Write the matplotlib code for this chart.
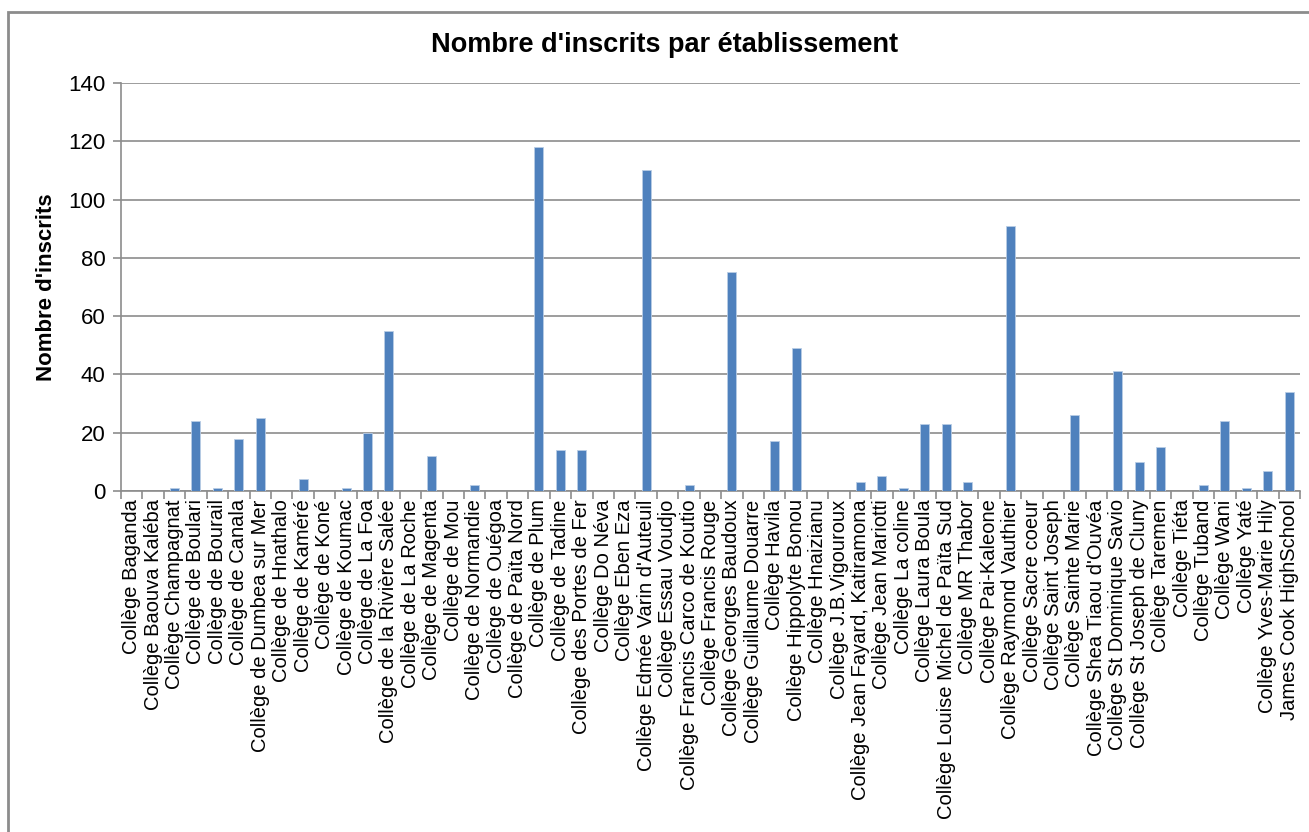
import numpy as np
import matplotlib.pyplot as plt
from matplotlib.patches import Rectangle

plt.rcParams['font.family'] = ['Liberation Sans', 'DejaVu Sans']

# Etablissements et nombre d'inscrits
etablissements = [
    "Collège Baganda", "Collège Baouva Kaléba", "Collège Champagnat",
    "Collège de Boulari", "Collège de Bourail", "Collège de Canala",
    "Collège de Dumbea sur Mer", "Collège de Hnathalo", "Collège de Kaméré",
    "Collège de Koné", "Collège de Koumac", "Collège de La Foa",
    "Collège de la Rivière Salée", "Collège de La Roche", "Collège de Magenta",
    "Collège de Mou", "Collège de Normandie", "Collège de Ouégoa",
    "Collège de Païta Nord", "Collège de Plum", "Collège de Tadine",
    "Collège des Portes de Fer", "Collège Do Néva", "Collège Eben Eza",
    "Collège Edmée Varin d'Auteuil", "Collège Essau Voudjo",
    "Collège Francis Carco de Koutio", "Collège Francis Rouge",
    "Collège Georges Baudoux", "Collège Guillaume Douarre", "Collège Havila",
    "Collège Hippolyte Bonou", "Collège Hnaizianu", "Collège J.B.Vigouroux",
    "Collège Jean Fayard, Katiramona", "Collège Jean Mariotti",
    "Collège La coline", "Collège Laura Boula",
    "Collège Louise Michel de Païta Sud", "Collège MR Thabor",
    "Collège Pai-Kaleone", "Collège Raymond Vauthier", "Collège Sacre coeur",
    "Collège Saint Joseph", "Collège Sainte Marie", "Collège Shea Tiaou d'Ouvéa",
    "Collège St Dominique Savio", "Collège St Joseph de Cluny",
    "Collège Taremen", "Collège Tiéta", "Collège Tuband", "Collège Wani",
    "Collège Yaté", "Collège Yves-Marie Hily", "James Cook HighSchool",
]
inscrits = [
    0, 0, 1, 24, 1, 18, 25, 0, 4, 0, 1, 20, 55, 0, 12, 0, 2, 0, 0, 118,
    14, 14, 0, 0, 110, 0, 2, 0, 75, 0, 17, 49, 0, 0, 3, 5, 1, 23, 23, 3,
    0, 91, 0, 0, 26, 0, 41, 10, 15, 0, 2, 24, 1, 7, 34,
]

fig = plt.figure(figsize=(13.09, 8.32), dpi=100)
ax = fig.add_axes([0.0924, 0.4099, 0.9007, 0.4904])

x = np.arange(len(etablissements))
ax.bar(x, inscrits, width=0.42, color='#4f81bd', edgecolor='#b9cde5', linewidth=0.6, zorder=3)

ax.set_xlim(-0.5, len(etablissements) - 0.5)
ax.set_ylim(0, 140)
ax.set_yticks(np.arange(0, 141, 20))
ax.yaxis.grid(True, color='#8c8c8c', linewidth=1.2, zorder=0)

ax.set_xticks(x)
ax.set_xticklabels(etablissements, rotation=90, fontsize=14.5)
ax.set_xticks(np.arange(-0.5, len(etablissements)), minor=True)
ax.tick_params(axis='x', which='major', length=0, pad=6)
ax.tick_params(axis='x', which='minor', length=6, color='#8c8c8c', width=1.2)
ax.tick_params(axis='y', length=6, color='#8c8c8c', width=1.2, labelsize=16, pad=5)

for s in ['top', 'right']:
    ax.spines[s].set_visible(False)
for s in ['left', 'bottom']:
    ax.spines[s].set_color('#8c8c8c')
    ax.spines[s].set_linewidth(1.2)

ax.set_ylabel("Nombre d'inscrits", fontsize=16, fontweight='bold', labelpad=8)
fig.text(0.508, 0.946, "Nombre d'inscrits par établissement", fontsize=19.5,
         fontweight='bold', ha='center', va='center')

# cadre du graphique
fig.patches.append(Rectangle((8 / 1309, -0.1), 1.2, 1.1 - 12 / 832, transform=fig.transFigure,
                             fill=False, edgecolor='#8c8c8c', linewidth=2))

fig.savefig('out.png', dpi=100)
